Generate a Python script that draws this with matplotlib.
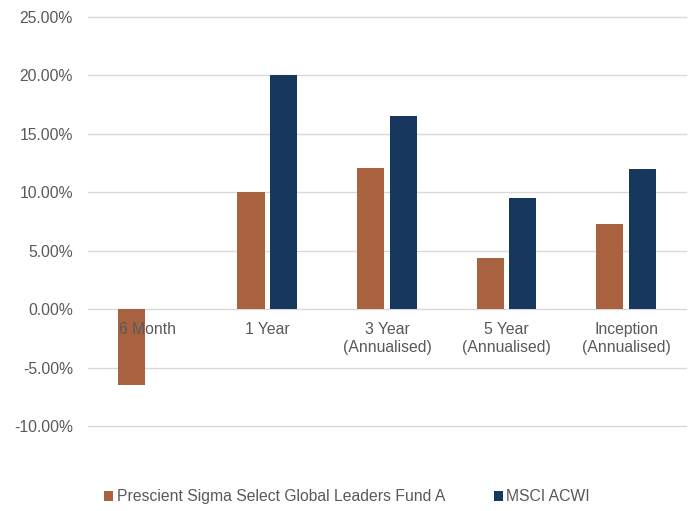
import matplotlib.pyplot as plt
import matplotlib.transforms as mtransforms
import numpy as np

plt.rc('font', family=['Liberation Sans', 'DejaVu Sans'])

categories = ['6 Month', '1 Year', '3 Year\n(Annualised)', '5 Year\n(Annualised)', 'Inception\n(Annualised)']
fund = [-6.5, 10.0, 12.1, 4.4, 7.3]
msci = [np.nan, 20.0, 16.5, 9.5, 12.0]
series_names = ['Prescient Sigma Select Global Leaders Fund A', 'MSCI ACWI']
yticks = [-10, -5, 0, 5, 10, 15, 20, 25]

fund_color = '#A9623F'
msci_color = '#17375E'
text_color = '#595959'
fs = 11.3

fig = plt.figure(figsize=(6.97, 5.11), dpi=100)
ax = fig.add_axes([0.1263, 0.1663, 0.8577, 0.8004])

x = np.arange(len(categories))
w = 0.226
off = 0.137
ax.bar(x - off, fund, w, color=fund_color, label=series_names[0], zorder=3)
ax.bar(x + off, msci, w, color=msci_color, label=series_names[1], zorder=3)

ax.set_xlim(-0.5, len(categories) - 0.5)
ax.set_ylim(-10, 25)
ax.set_yticks(yticks)
ax.set_yticklabels(['{:.2f}%'.format(v) for v in yticks], color=text_color, fontsize=fs)
ax.tick_params(axis='y', length=0, pad=11)
ax.set_xticks([])
for v in yticks:
    ax.axhline(v, color='#D9D9D9', lw=1, zorder=0, clip_on=False)
for s in ax.spines.values():
    s.set_visible(False)

# category labels sit just under the zero line
trans = mtransforms.offset_copy(ax.transData, fig=fig, x=0, y=-9, units='points')
for i, lab in enumerate(categories):
    ax.text(i, 0, lab, transform=trans, ha='center', va='top', color=text_color,
            fontsize=fs, linespacing=1.3, zorder=4)

ax.legend(loc='upper center', bbox_to_anchor=(0.433, -0.12), ncol=2, frameon=False,
          fontsize=fs, handlelength=0.6, handleheight=0.6, handletextpad=0.2,
          columnspacing=3.1, labelcolor=text_color)

fig.savefig('out.png', dpi=100)
